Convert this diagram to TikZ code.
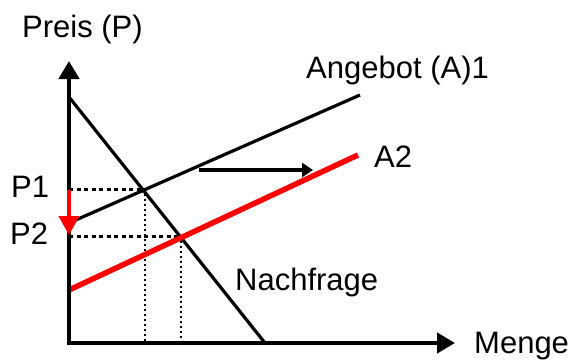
\documentclass[tikz,border=0pt]{standalone}
\usepackage{fontspec}
\setmainfont{Liberation Sans}
\usetikzlibrary{arrows.meta}

\begin{document}
\begin{tikzpicture}[
  x = 1pt, y = -1pt,
  every node/.style = {font=\fontsize{31}{35}\selectfont, inner sep=0pt, anchor=base west},
  axis/.style = {line width=4.5pt, line join=miter,
    {Triangle[length=18pt, width=20pt]}-{Triangle[length=18pt, width=20pt]}},
  curve/.style = {line width=3.2pt},
  shifted/.style = {line width=5.5pt, red},
  hdot/.style = {line width=3pt, dash pattern=on 4pt off 3.5pt},
  vdot/.style = {line width=2pt, dash pattern=on 2pt off 3pt},
  arr/.style = {line width=3.2pt, -{Triangle[length=11pt, width=14pt]}},
  redarr/.style = {line width=4pt, red, -{Triangle[length=19pt, width=20pt]}}
]
\useasboundingbox (0,0) rectangle (572,359);

% points of the diagram
\coordinate (O)   at (69,343);
\coordinate (ytip) at (69,61);
\coordinate (xtip) at (455,343);
\coordinate (d0)  at (69,97);
\coordinate (d1)  at (265,343);
\coordinate (a0)  at (69,223);
\coordinate (a1)  at (360,95);
\coordinate (b0)  at (69,290);
\coordinate (b1)  at (358,155);
\coordinate (e1)  at (145,189);
\coordinate (e2)  at (181,236);
\coordinate (p1)  at (69,189);
\coordinate (p2)  at (69,236);
\coordinate (q1)  at (145,343);
\coordinate (q2)  at (181,343);
\coordinate (s0)  at (199,170);
\coordinate (s1)  at (313,170);
\coordinate (r0)  at (69,190);
\coordinate (r1)  at (69,235);

% labels
\node (preis)   at (22,37)   {Preis (P)};
\node (angebot) at (306,78)  {Angebot (A)1};
\node (atwo)    at (374,167) {A2};
\node (pone)    at (11,197)  {P1};
\node (ptwo)    at (10,244)  {P2};
\node (nachfr)  at (235,290) {Nachfrage};
\node (menge)   at (474,353) {Menge};

% dotted guides
\draw[hdot] (p1) -- (e1);
\draw[hdot] (p2) -- (e2);
\draw[vdot] (e1) -- (q1);
\draw[vdot] (e2) -- (q2);

% curves
\draw[curve] (d0) -- (d1);
\draw[curve] (a0) -- (a1);
\draw[shifted] (b0) -- (b1);

% axes
\draw[axis] (ytip) -- (O) -- (xtip);

% shift arrows
\draw[arr] (s0) -- (s1);
\draw[redarr] (r0) -- (r1);
\end{tikzpicture}
\end{document}
